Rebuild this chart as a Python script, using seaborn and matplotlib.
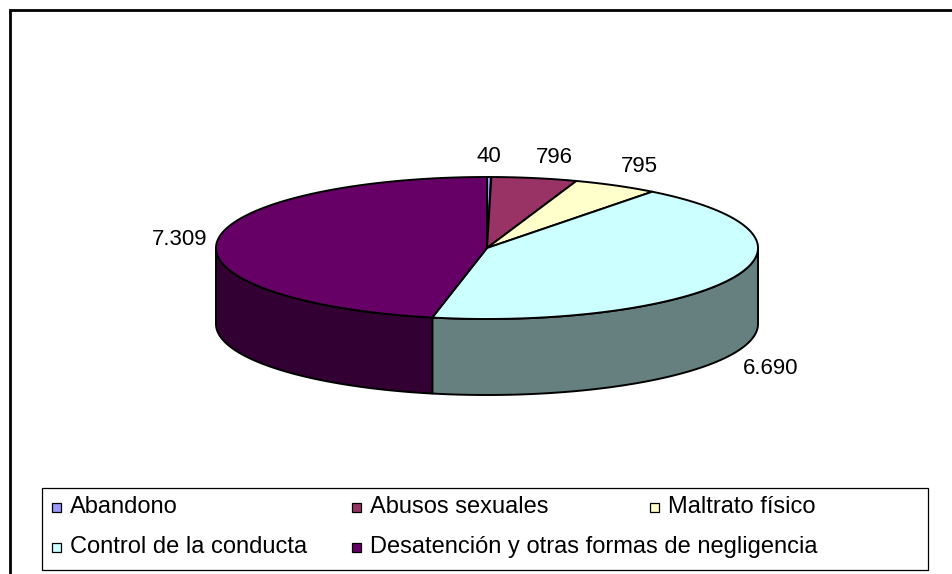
import numpy as np
import matplotlib
matplotlib.use("Agg")
import matplotlib.pyplot as plt
from matplotlib.colors import to_rgb
from matplotlib.patches import Polygon, Rectangle
import seaborn as sns

# Data
categories = ["Abandono", "Abusos sexuales", "Maltrato físico",
              "Control de la conducta", "Desatención y otras formas de negligencia"]
values = [40, 796, 795, 6690, 7309]
value_labels = ["40", "796", "795", "6.690", "7.309"]
top_colors = ["#9999FF", "#993366", "#FFFFCC", "#CCFFFF", "#660066"]

sns.set_theme(style="white")
plt.rcParams["font.family"] = ["Liberation Sans", "DejaVu Sans"]

fig = plt.figure(figsize=(9.52, 5.74), dpi=100)
ax = fig.add_axes([0, 0, 1, 1])
ax.set_xlim(0, 952)
ax.set_ylim(574, 0)
ax.axis("off")

# darker shade for the side walls
side_colors = [tuple(c * 0.5 for c in to_rgb(col)) for col in top_colors]

# pie geometry (pixel units)
cx, cy, rx, ry, depth = 487, 248, 271, 71, 76
total = sum(values)
edges = np.concatenate([[0], np.cumsum(values)]) / total * 360


def arc(t0, t1, dy=0):
    t = np.radians(np.linspace(t0, t1, 300))
    return np.column_stack([cx + rx * np.sin(t), cy - ry * np.cos(t) + dy])


# side walls (only front half is visible)
for i in range(len(values)):
    t0 = max(edges[i], 90)
    t1 = min(edges[i + 1], 270)
    if t1 > t0:
        pts = np.vstack([arc(t0, t1), arc(t0, t1, depth)[::-1]])
        ax.add_patch(Polygon(pts, closed=True, fc=side_colors[i], ec="black",
                             lw=1.4, joinstyle="round"))

# top faces
for i in range(len(values)):
    pts = np.vstack([[cx, cy], arc(edges[i], edges[i + 1])])
    ax.add_patch(Polygon(pts, closed=True, fc=top_colors[i], ec="black",
                         lw=1.4, joinstyle="round"))

# value labels outside the slices
off = 10
for i, lab in enumerate(value_labels):
    mid = np.radians((edges[i] + edges[i + 1]) / 2)
    s, c = np.sin(mid), np.cos(mid)
    x = cx + (rx + off) * s
    y = cy - (ry + off) * c + (depth if c < 0 else 0)
    ha = "center" if abs(s) < 0.1 else ("left" if s > 0 else "right")
    va = "center" if abs(c) < 0.3 else ("bottom" if c > 0 else "top")
    ax.text(x, y, lab, ha=ha, va=va, fontsize=16, color="black")

# legend drawn as a grid like the original
ax.add_patch(Rectangle((42, 488), 886, 82, fc="white", ec="black", lw=0.9))
col_x = [52, 352, 650]
for i, cat in enumerate(categories):
    row, col = divmod(i, 3)
    sx = col_x[col]
    sy = 507 + row * 40
    ax.add_patch(Rectangle((sx, sy - 4.5), 9, 9, fc=top_colors[i], ec="black", lw=0.9))
    ax.text(sx + 18, sy, cat, ha="left", va="center", fontsize=17, color="black")

# outer chart frame (left and top edges visible)
ax.plot([10, 10, 960], [580, 10, 10], color="black", lw=2, solid_joinstyle="miter")

fig.savefig("out.png", dpi=100)
